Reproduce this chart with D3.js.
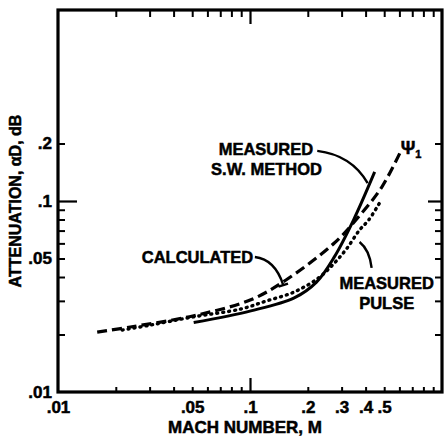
<!DOCTYPE html>
<html>
<head>
<meta charset="utf-8">
<script src="https://cdn.jsdelivr.net/npm/d3@7"></script>
<style>
  html, body { margin: 0; padding: 0; background: #fff; }
  svg { display: block; font-family: "Liberation Sans", Arial, Helvetica, sans-serif; font-weight: bold; }
  svg text { stroke: #000; stroke-width: 0.5; }
</style>
</head>
<body>
<svg id="chart" width="447" height="437"></svg>
<script>
// Attenuation (dB) versus Mach number, log-log
const machCalc   = [0.016, 0.0238, 0.0503, 0.101, 0.154, 0.275, 0.367, 0.485, 0.603];
const attenCalc  = [0.0206, 0.0219, 0.025, 0.0304, 0.0386, 0.0603, 0.0824, 0.118, 0.178];

const machSW     = [0.0509, 0.101, 0.170, 0.222, 0.275, 0.346, 0.446];
const attenSW    = [0.0231, 0.0266, 0.0311, 0.0376, 0.0510, 0.0795, 0.142];

const machPulse  = [0.0216, 0.0303, 0.0503, 0.0897, 0.121, 0.170, 0.227, 0.275, 0.318, 0.372, 0.415, 0.473];
const attenPulse = [0.0211, 0.0224, 0.0247, 0.0272, 0.0299, 0.0334, 0.0395, 0.0473, 0.0561, 0.0705, 0.0795, 0.0977];

const xTickValues = [0.01, 0.05, 0.1, 0.2, 0.3, 0.4, 0.5];
const xTickLabels = [".01", ".05", ".1", ".2", ".3", ".4", ".5"];
const yTickValues = [0.01, 0.05, 0.1, 0.2];
const yTickLabels = [".01", ".05", ".1", ".2"];
const xMinorTicks = [0.02, 0.03, 0.04, 0.05, 0.06, 0.07, 0.08, 0.09, 0.2, 0.3, 0.4, 0.5, 0.6, 0.7, 0.8, 0.9];
const yMinorTicks = [0.02, 0.03, 0.04, 0.05, 0.06, 0.07, 0.08, 0.09, 0.2];

const svg = d3.select("#chart");
const x = d3.scaleLog().domain([0.01, 1]).range([58, 442]);
const y = d3.scaleLog().domain([0.01, 1]).range([392, 10]);
const [x0, x1] = x.range();
const [y0, y1] = y.range();

// frame ticks (all pointing inward)
function tickAxis(axis, transform, width) {
  const g = svg.append("g").attr("transform", transform).call(axis);
  g.select(".domain").remove();
  g.selectAll(".tick line").attr("stroke", "#000").attr("stroke-width", width);
  g.selectAll(".tick text").remove();
  return g;
}
tickAxis(d3.axisBottom(x).tickValues(xMinorTicks).tickSize(-5), `translate(0,${y0})`, 2);
tickAxis(d3.axisBottom(x).tickValues([0.1]).tickSize(-14), `translate(0,${y0})`, 2.2);
tickAxis(d3.axisTop(x).tickValues(xMinorTicks).tickSize(-7), `translate(0,${y1})`, 2);
tickAxis(d3.axisTop(x).tickValues([0.1]).tickSize(-14), `translate(0,${y1})`, 2.2);
tickAxis(d3.axisLeft(y).tickValues(yMinorTicks).tickSize(-7), `translate(${x0},0)`, 2);
tickAxis(d3.axisLeft(y).tickValues([0.1]).tickSize(-19), `translate(${x0},0)`, 2.2);
tickAxis(d3.axisRight(y).tickValues(yMinorTicks).tickSize(-7), `translate(${x1},0)`, 2);
tickAxis(d3.axisRight(y).tickValues([0.1]).tickSize(-14), `translate(${x1},0)`, 2.2);

// frame
svg.append("rect")
  .attr("x", x0).attr("y", y1)
  .attr("width", x1 - x0).attr("height", y0 - y1)
  .attr("fill", "none").attr("stroke", "#000").attr("stroke-width", 3.2);

// tick labels
const xl = svg.append("g").attr("transform", `translate(0,${y0})`)
  .call(d3.axisBottom(x).tickValues(xTickValues).tickSize(0).tickPadding(9)
    .tickFormat((d, i) => xTickLabels[i]));
xl.select(".domain").remove();
xl.selectAll("text").attr("font-size", 17).attr("font-family", null).attr("fill", "#000");

const yl = svg.append("g").attr("transform", `translate(${x0},0)`)
  .call(d3.axisLeft(y).tickValues(yTickValues).tickSize(0).tickPadding(6)
    .tickFormat((d, i) => yTickLabels[i]));
yl.select(".domain").remove();
yl.selectAll("text").attr("font-size", 17).attr("font-family", null).attr("fill", "#000");

// axis titles
svg.append("text").attr("x", 245).attr("y", 433).attr("text-anchor", "middle")
  .attr("font-size", 17).text("MACH NUMBER, M");
svg.append("text").attr("transform", "translate(21,201) rotate(-90)")
  .attr("text-anchor", "middle").attr("font-size", 16).text("ATTENUATION, αD, dB");

// curves
const line = d3.line().x(d => x(d[0])).y(d => y(d[1])).curve(d3.curveCatmullRom.alpha(0.5));
const zip = (a, b) => a.map((v, i) => [v, b[i]]);

svg.append("path").datum(zip(machCalc, attenCalc)).attr("d", line)
  .attr("fill", "none").attr("stroke", "#000").attr("stroke-width", 3.2)
  .attr("stroke-dasharray", "10,5");
svg.append("path").datum(zip(machSW, attenSW)).attr("d", line)
  .attr("fill", "none").attr("stroke", "#000").attr("stroke-width", 3);
svg.append("path").datum(zip(machPulse, attenPulse)).attr("d", line)
  .attr("fill", "none").attr("stroke", "#000").attr("stroke-width", 3.4)
  .attr("stroke-linecap", "round").attr("stroke-dasharray", "1,5");

// annotations (placed in data units)
function label(txt, mx, a, anchor, size) {
  svg.append("text").attr("x", x(mx)).attr("y", y(a))
    .attr("text-anchor", anchor).attr("font-size", size).text(txt);
}
function leader(p0, c, p1, bar) {
  const P = p => [x(p[0]), y(p[1])];
  const [a, b, e] = [P(p0), P(c), P(p1)];
  svg.append("path").attr("d", `M${a}Q${b} ${e}`)
    .attr("fill", "none").attr("stroke", "#000").attr("stroke-width", 2.4);
  if (bar) {
    const dx = e[0] - b[0], dy = e[1] - b[1], len = Math.hypot(dx, dy);
    const nx = -dy / len * 5, ny = dx / len * 5;
    svg.append("line").attr("x1", e[0] - nx).attr("y1", e[1] - ny)
      .attr("x2", e[0] + nx).attr("y2", e[1] + ny)
      .attr("stroke", "#000").attr("stroke-width", 2.4);
  }
}

label("MEASURED", 0.121, 0.174, "middle", 16.5);
label("S.W. METHOD", 0.122, 0.137, "middle", 16.5);
leader([0.224, 0.183], [0.338, 0.174], [0.410, 0.124], false);

label("CALCULATED", 0.104, 0.0473, "end", 16.5);
leader([0.106, 0.0509], [0.135, 0.0495], [0.149, 0.0363], true);

label("MEASURED", 0.515, 0.0346, "middle", 16.5);
label("PULSE", 0.515, 0.0272, "middle", 16.5);
leader([0.372, 0.061], [0.420, 0.0554], [0.430, 0.0446], false);

svg.append("text").attr("x", x(0.69)).attr("y", y(0.177)).attr("text-anchor", "middle")
  .attr("font-size", 18).text("Ψ")
  .append("tspan").attr("font-size", 11).attr("dy", 4).text("1");
</script>
</body>
</html>
